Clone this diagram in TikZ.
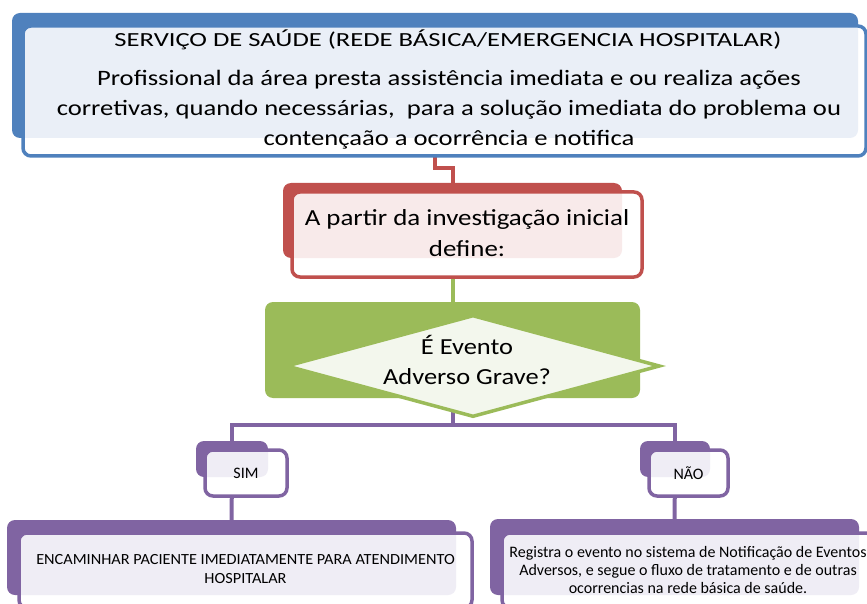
\documentclass[tikz,border=0pt]{standalone}
\usepackage{fontspec}
\setmainfont{Carlito}
\usetikzlibrary{shapes.geometric}
\definecolor{saude-blue}{HTML}{4F81BD}
\definecolor{saude-blue-light}{HTML}{EAEFF7}
\definecolor{saude-red}{HTML}{C0504D}
\definecolor{saude-red-light}{HTML}{F8EAEA}
\definecolor{saude-green}{HTML}{9BBB59}
\definecolor{saude-green-light}{HTML}{F3F7ED}
\definecolor{saude-purple}{HTML}{8064A2}
\definecolor{saude-purple-light}{HTML}{EFEDF5}
\pgfdeclarelayer{background}
\pgfdeclarelayer{light}
\pgfsetlayers{background,light,main}
% text widened as in the original
\newcommand{\widetext}[2]{\scalebox{#1}[1]{\begin{tabular}{@{}c@{}}#2\end{tabular}}}

\begin{document}
\begin{tikzpicture}[x=1pt,y=-1pt,
		back-box/.style={rectangle, rounded corners=8pt, inner sep=0pt, outer sep=0pt},
		front-box/.style={rectangle, rounded corners=8pt, draw, line width=3.5pt, inner sep=0pt, outer sep=0pt, align=center},
		link/.style={line width=4pt}]
		\useasboundingbox (0,0) rectangle (867,604);
		% back boxes
		\begin{pgfonlayer}{background}
			\node [back-box, fill=saude-blue, minimum width=846pt, minimum height=125pt] at (435,75.5) (saude-back) {};
			\node [back-box, fill=saude-red, minimum width=339pt, minimum height=75pt] at (452.5,220.5) (invest-back) {};
			\node [back-box, fill=saude-green, minimum width=375pt, minimum height=96pt] at (452.5,350) (grave-back) {};
			\node [back-box, fill=saude-purple, minimum width=72pt, minimum height=36pt] at (232,459) (sim-back) {};
			\node [back-box, fill=saude-purple, minimum width=70pt, minimum height=36pt] at (675,459) (nao-back) {};
			\node [back-box, fill=saude-purple, minimum width=449pt, minimum height=75pt] at (231.5,557.5) (encam-back) {};
			\node [back-box, fill=saude-purple, minimum width=369pt, minimum height=76pt] at (674.5,557) (regist-back) {};
		\end{pgfonlayer}
		% servico de saude
		\node [front-box, draw=saude-blue, minimum width=843pt, minimum height=130pt] at (444.5,91) (saude) {};
		\node [font=\fontsize{20}{25}\selectfont, inner sep=0pt] at (448,42) (saude-title) {\widetext{1.33}{SERVIÇO DE SAÚDE (REDE BÁSICA/EMERGENCIA HOSPITALAR)}};
		\node [font=\fontsize{22}{30}\selectfont, inner sep=0pt] at (449,109.5) (saude-text) {\widetext{1.21}{Profissional da área presta assistência imediata e ou realiza ações\\corretivas, quando necessárias,~ para a solução imediata do problema ou\\contençaão a ocorrência e notifica}};
		% investigacao
		\node [front-box, draw=saude-red, minimum width=350pt, minimum height=85pt, font=\fontsize{23}{31}\selectfont] at (467,234.5) (invest) {\widetext{1.17}{A partir da investigação inicial\\define:}};
		% evento adverso grave
		\node [diamond, draw=saude-green, fill=saude-green-light, line width=3.5pt, inner sep=0pt, minimum width=374pt, minimum height=102pt] at (473,366) (grave) {};
		\node [font=\fontsize{23}{30}\selectfont, inner sep=0pt] at (467,363) (grave-text) {\widetext{1.15}{É Evento\\Adverso Grave?}};
		% sim / nao
		\node [front-box, draw=saude-purple, minimum width=82pt, minimum height=46pt, font=\fontsize{16}{18}\selectfont] at (246,473) (sim) {SIM};
		\node [front-box, draw=saude-purple, minimum width=79pt, minimum height=46pt, font=\fontsize{16}{18}\selectfont] at (688.5,473) (nao) {NÃO};
		% encaminhar / registra
		\node [front-box, draw=saude-purple, minimum width=453pt, minimum height=75pt, font=\fontsize{15.5}{19}\selectfont] at (245.5,570.5) (encam) {\widetext{1.05}{ENCAMINHAR PACIENTE IMEDIATAMENTE PARA ATENDIMENTO\\HOSPITALAR}};
		\node [front-box, draw=saude-purple, minimum width=372pt, minimum height=75pt, font=\fontsize{16}{18}\selectfont] at (688,570.5) (regist) {Registra o evento no sistema de Notificação de Eventos\\Adversos, e segue o fluxo de tratamento e de outras\\ocorrencias na rede básica de saúde.};
		% light fills inside the front boxes
		\begin{pgfonlayer}{light}
			\foreach \front/\back/\tint in {saude/saude-back/saude-blue-light, invest/invest-back/saude-red-light, sim/sim-back/saude-purple-light, nao/nao-back/saude-purple-light, encam/encam-back/saude-purple-light, regist/regist-back/saude-purple-light}{
				\fill [white, rounded corners=8pt] (\front.north west) rectangle (\front.south east);
				\begin{scope}
					\clip [rounded corners=8pt] (\front.north west) rectangle (\front.south east);
					\fill [\tint, rounded corners=8pt] (\back.north west) rectangle (\back.south east);
				\end{scope}
			}
		\end{pgfonlayer}
		% links
		\begin{pgfonlayer}{background}
			\draw [link, saude-red] (saude-back.south) -- ++(0,30) -| (invest-back.north);
			\draw [link, saude-green] (invest-back.south) -- (grave-back.north);
			\draw [link, saude-purple] (grave-back.south) -- ++(0,27) coordinate (split);
			\draw [link, saude-purple] (sim-back.north) |- (split) -| (nao-back.north);
			\draw [link, saude-purple] (sim-back.south) -- (encam-back.north);
			\draw [link, saude-purple] (nao-back.south) -- (regist-back.north);
		\end{pgfonlayer}
	\end{tikzpicture}
\end{document}
